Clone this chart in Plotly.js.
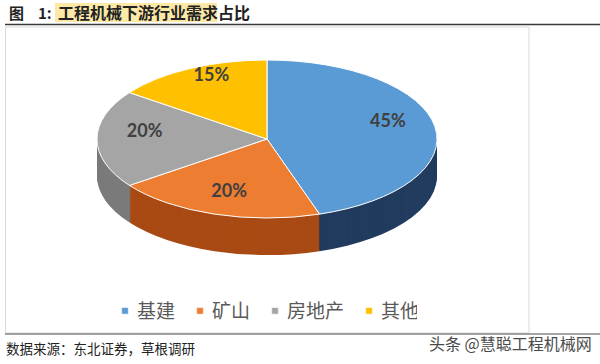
<!DOCTYPE html>
<html><head><meta charset="utf-8">
<script src="https://cdn.plot.ly/plotly-3.0.1.min.js"></script>
<style>html,body{margin:0;padding:0;background:#fff}#chart{width:600px;height:364px}</style>
</head><body><div id="chart"></div>
<script>
// ---- data ----
const categories = ['基建', '矿山', '房地产', '其他'];
const shares = [45, 20, 20, 15];
const topColors = ['#5b9bd5', '#ed7d31', '#a5a5a5', '#ffc000'];
const sideColors = ['#213c5e', '#a94a14', '#7b7b7b', '#bf9000'];
const figLabel = '图';
const figNum = '1:';
const titleMain = '工程机械下游行业需求占比';
const sourceText = '数据来源：东北证券，草根调研';
const watermarkText = '头条 @慧聪工程机械网';

// ---- geometry helpers ----
const W = 600, H = 364, M = {l: 97, r: 163, t: 12, b: 12};
const PW = W - M.l - M.r, PH = H - M.t - M.b;
const px = x => (x - M.l) / PW, py = y => (H - M.b - y) / PH;
const K = 79 / 170, TARGET = [267, 139], DEPTH = 37, NSIDE = 37;
const LABEL_RX = 0.72, LABEL_RY = 0.80, LABEL_DY = -9;
const LEG_FIRST = 125, LEG_SYM_GAP = 12, LEG_ITEM_GAP = 25, LEG_Y = 311;

const traces = [];
for (let i = 0; i < NSIDE; i++) {
  traces.push({type: 'pie', labels: categories, values: shares, sort: false,
    direction: 'clockwise', rotation: 0, textinfo: 'none', hoverinfo: 'skip',
    showlegend: false, marker: {colors: sideColors, line: {width: 0}}});
}
traces.push({type: 'pie', labels: categories, values: shares, sort: false,
  direction: 'clockwise', rotation: 0, texttemplate: '%{value}%',
  textposition: 'inside', insidetextorientation: 'horizontal',
  textfont: {family: 'Lato, Open Sans, sans-serif', size: 18, color: '#404040', weight: 'bold'},
  marker: {colors: topColors, line: {color: '#ffffff', width: 1}}, showlegend: true});

const layout = {
  width: W, height: H, margin: M, paper_bgcolor: '#fff', plot_bgcolor: '#fff',
  showlegend: true,
  legend: {orientation: 'h', x: 0.5, xanchor: 'center', y: py(LEG_Y), yanchor: 'middle',
    entrywidth: 30, entrywidthmode: 'pixels',
    font: {family: 'Noto Sans CJK SC', size: 19, color: '#595959'}, bgcolor: 'rgba(0,0,0,0)'},
  shapes: [
    {type: 'rect', xref: 'paper', yref: 'paper', x0: px(55), x1: px(217), y0: py(3), y1: py(22),
      fillcolor: '#fde9a6', line: {width: 0}, layer: 'below'},
    {type: 'line', xref: 'paper', yref: 'paper', x0: px(5), x1: px(600), y0: py(24.5), y1: py(24.5),
      line: {color: '#3a3a3a', width: 1.5}},
    {type: 'rect', xref: 'paper', yref: 'paper', x0: px(5.5), x1: px(529), y0: py(27), y1: py(333),
      line: {color: '#d9d9d9', width: 1}, layer: 'below'},
    {type: 'line', xref: 'paper', yref: 'paper', x0: px(5), x1: px(600), y0: py(334), y1: py(334),
      line: {color: '#4a4a4a', width: 1}}
  ],
  annotations: [
    {text: figLabel, xref: 'paper', yref: 'paper', x: px(7), y: py(12), xanchor: 'left', yanchor: 'middle',
      showarrow: false, font: {family: 'Noto Sans CJK SC', size: 15, color: '#222', weight: 'bold'}},
    {text: figNum, xref: 'paper', yref: 'paper', x: px(36), y: py(12), xanchor: 'left', yanchor: 'middle',
      showarrow: false, font: {family: 'Noto Sans CJK SC', size: 15, color: '#222', weight: 'bold'}},
    {text: titleMain, xref: 'paper', yref: 'paper', x: px(56), y: py(12), xanchor: 'left', yanchor: 'middle',
      showarrow: false, font: {family: 'Noto Sans CJK SC', size: 16, color: '#222', weight: 'bold'}},
    {text: sourceText, xref: 'paper', yref: 'paper', x: px(4), y: py(348), xanchor: 'left', yanchor: 'middle',
      showarrow: false, font: {family: 'Noto Sans CJK SC', size: 13.5, color: '#222'}},
    {text: watermarkText, xref: 'paper', yref: 'paper', x: px(594), y: py(343), xanchor: 'right', yanchor: 'middle',
      showarrow: false, font: {family: 'Noto Sans CJK SC', size: 16, color: '#4a4a4a'}}
  ]
};

Plotly.newPlot('chart', traces, layout, {staticPlot: true}).then(gd => {
  const cx = M.l + PW / 2, cy = M.t + PH / 2, R = Math.min(PW, PH) / 2;
  const total = shares.reduce((a, b) => a + b, 0);
  let cum = 0;
  const mids = shares.map(v => { const m = (cum + v / 2) / total * 2 * Math.PI; cum += v; return m; });
  const groups = gd.querySelectorAll('.pielayer g.trace');
  groups.forEach((g, i) => {
    const dy = i < NSIDE ? DEPTH * (NSIDE - i) / NSIDE : 0;
    g.setAttribute('transform',
      `translate(${TARGET[0]},${TARGET[1] + dy}) scale(1,${K}) translate(${-cx},${-cy})`);
    g.querySelectorAll('path').forEach(p => p.style.vectorEffect = 'non-scaling-stroke');
    g.querySelectorAll('g.slice').forEach((s, j) => {
      s.querySelectorAll('text').forEach(t => {
        const bb = t.getBBox();
        let c = {x: bb.x + bb.width / 2, y: bb.y + bb.height / 2};
        const cons = t.transform.baseVal.consolidate();
        if (cons) { const m = cons.matrix; c = {x: m.a * c.x + m.c * c.y + m.e, y: m.b * c.x + m.d * c.y + m.f}; }
        const gx = cx + LABEL_RX * R * Math.sin(mids[j]);
        const gy = cy - LABEL_RY * R * Math.cos(mids[j]) + LABEL_DY / K;
        const old = t.getAttribute('transform') || '';
        t.setAttribute('transform', `translate(${gx},${gy}) scale(1,${1 / K}) translate(${-c.x},${-c.y}) ${old}`);
      });
    });
  });
  // compact legend layout like the reference
  const items = gd.querySelectorAll('.legend g.traces');
  let sq = LEG_FIRST;
  items.forEach(it => {
    const sym = it.querySelector('.legendpoints path');
    if (sym) sym.setAttribute('transform', 'translate(28,0) scale(0.55)');
    const parentE = it.parentNode.getScreenCTM().e;
    const cur = it.transform.baseVal.consolidate();
    const yv = cur ? cur.matrix.f : 0;
    it.setAttribute('transform', `translate(${sq - 28 - parentE},${yv})`);
    const txt = it.querySelector('text.legendtext');
    const tw = txt ? txt.getComputedTextLength() : 38;
    sq = sq + LEG_SYM_GAP + tw + LEG_ITEM_GAP;
  });
});
</script></body></html>
